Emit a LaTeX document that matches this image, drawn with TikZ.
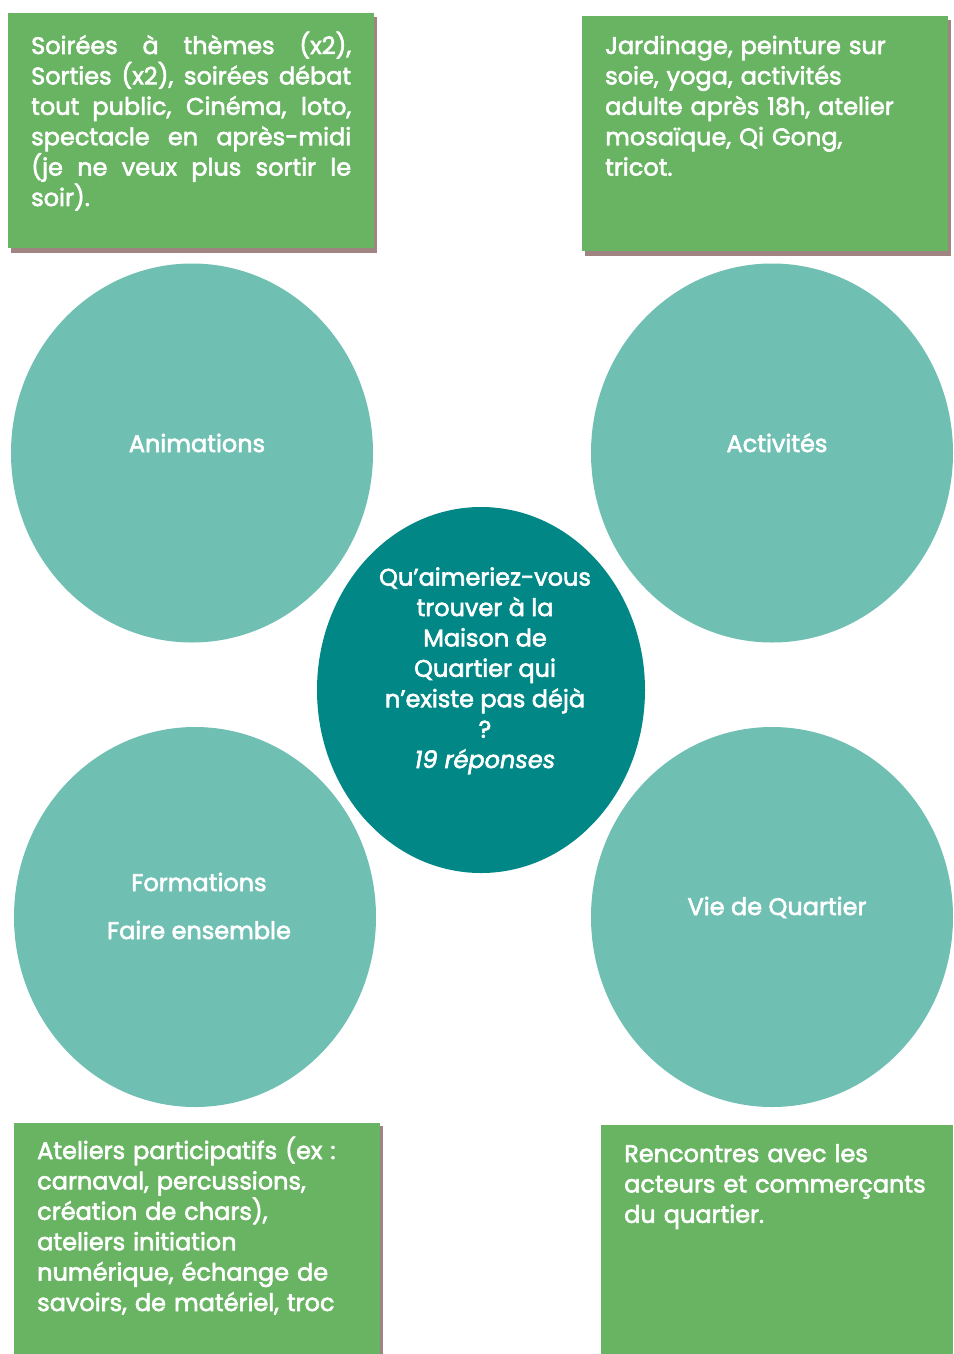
\documentclass[tikz,border=0pt]{standalone}
\usepackage{fontspec}
\setmainfont{Poppins}[FakeBold=2.5]
\usetikzlibrary{shapes.geometric}
\definecolor{grn}{HTML}{68B462}
\definecolor{shd}{HTML}{A08482}
\definecolor{lteal}{HTML}{6FBFB2}
\definecolor{dteal}{HTML}{008786}
\begin{document}
\begin{tikzpicture}[x=1pt,y=-1pt,
  gbox/.style={fill=grn, draw=none, inner sep=0pt, anchor=north west},
  sbox/.style={fill=shd, draw=none, inner sep=0pt, anchor=north west},
  txt/.style={text=white, inner sep=0pt, anchor=base west, font=\fontsize{24}{30.4}\selectfont},
  circ/.style={ellipse, fill=lteal, draw=none, inner sep=0pt},
  lbl/.style={text=white, inner sep=0pt, anchor=base, font=\fontsize{24}{24}\selectfont}]
\useasboundingbox (0,0) rectangle (953,1354);
\fill[white] (0,0) rectangle (953,1354);

% top-left box
\node[sbox, minimum width=366pt, minimum height=236pt] (s1) at (11,17) {};
\node[gbox, minimum width=366pt, minimum height=235pt] (b1) at (8,13) {};
\node[txt, text width=320pt, align=justify] (t1) at (31,54)
 {Soirées à thèmes (x2),\linebreak Sorties (x2), soirées débat\linebreak tout public, Cinéma, loto,\linebreak spectacle en après-midi\linebreak (je ne veux plus sortir le\linebreak soir).};

% top-right box
\node[sbox, minimum width=366pt, minimum height=236pt] (s2) at (585,20) {};
\node[gbox, minimum width=366pt, minimum height=235pt] (b2) at (582,16) {};
\node[txt, text width=340pt, align=left] (t2) at (605,54)
 {Jardinage, peinture sur\\soie, yoga, activités\\adulte après 18h, atelier\\mosaïque, Qi Gong,\\tricot.};

% bottom-left box
\node[sbox, minimum width=366pt, minimum height=240pt] (s3) at (17,1126) {};
\node[gbox, minimum width=366pt, minimum height=240pt] (b3) at (14,1123) {};
\node[txt, text width=340pt, align=left] (t3) at (37,1159)
 {Ateliers participatifs (ex~:\\carnaval, percussions,\\création de chars),\\ateliers initiation\\numérique, échange de\\savoirs, de matériel, troc};

% bottom-right box
\node[gbox, minimum width=352pt, minimum height=240pt] (b4) at (601,1125) {};
\node[txt, text width=320pt, align=left] (t4) at (624,1162)
 {Rencontres avec les\\acteurs et commerçants\\du quartier.};

% circles
\node[circ, minimum width=362pt, minimum height=379pt] (c1) at (192,453) {};
\node[circ, minimum width=362pt, minimum height=379pt] (c2) at (772,453) {};
\node[circ, minimum width=362pt, minimum height=380pt] (c3) at (195,917) {};
\node[circ, minimum width=362pt, minimum height=380pt] (c4) at (772,917) {};
\node[ellipse, fill=dteal, draw=none, inner sep=0pt, minimum width=328pt, minimum height=366pt] (c0) at (481,690) {};

\node[lbl] (l1) at (197,452) {Animations};
\node[lbl] (l2) at (777,452) {Activités};
\node[lbl] (l3) at (199,891) {Formations};
\node[lbl] (l3b) at (199,939) {Faire ensemble};
\node[lbl] (l4) at (777,915) {Vie de Quartier};
\node[lbl, align=center, font=\fontsize{24}{30.4}\selectfont] (l0) at (485,768)
 {Qu’aimeriez-vous\\trouver à la\\Maison de\\Quartier qui\\n’existe pas déjà\\?\\\textit{19 réponses}};
\end{tikzpicture}
\end{document}
